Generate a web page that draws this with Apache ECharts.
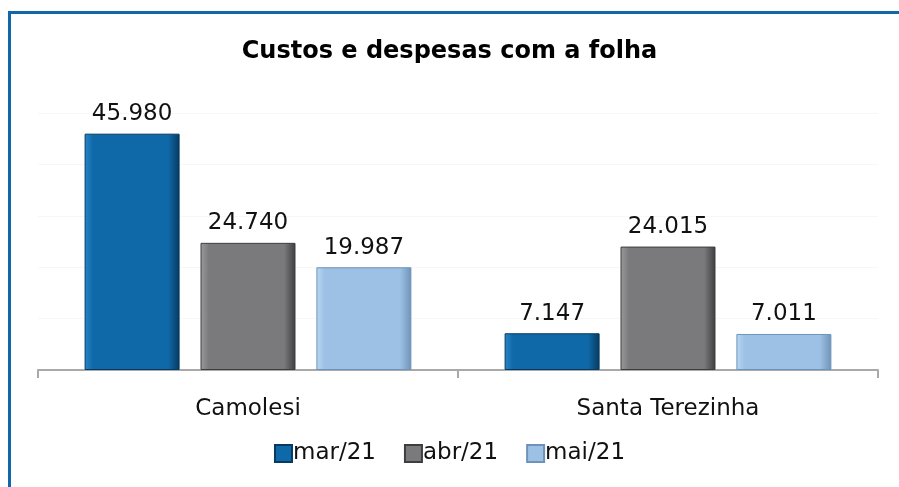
<!DOCTYPE html>
<html>
<head>
<meta charset="utf-8">
<script src="https://cdn.jsdelivr.net/npm/echarts@6/dist/echarts.min.js"></script>
<style>
	html,body{margin:0;padding:0;background:#fff;}
	#chart{width:899px;height:487px;}
</style>
</head>
<body>
<div id="chart"></div>
<script>
	// dados
	const categorias = ['Camolesi', 'Santa Terezinha'];
	const meses = ['mar/21', 'abr/21', 'mai/21'];
	const mar21 = [45980, 7147];
	const abr21 = [24740, 24015];
	const mai21 = [19987, 7011];

	const cores = [
		['#2a86c8', '#0f68a8', '#063a60'],
		['#9a9a9c', '#7a7a7c', '#3e3e40'],
		['#b8d8f4', '#9dc1e4', '#6f93b8']
	];

	const fmt = v => v.toLocaleString('de-DE');
	const fonte = 'DejaVu Sans';

	const grad = (c) => new echarts.graphic.LinearGradient(0, 0, 1, 0, [
		{offset: 0, color: c[0]},
		{offset: 0.09, color: c[1]},
		{offset: 0.88, color: c[1]},
		{offset: 1, color: c[2]}
	]);

	const serie = (nome, dados, c) => ({
		name: nome,
		type: 'bar',
		data: dados,
		barWidth: 95,
		barGap: '22%',
		barCategoryGap: '22%',
		itemStyle: {color: grad(c), borderColor: c[2], borderWidth: 1},
		label: {
			show: true, position: 'top', distance: 8,
			fontFamily: fonte, fontSize: 23, color: '#111',
			formatter: p => fmt(p.value)
		}
	});

	const chart = echarts.init(document.getElementById('chart'));
	chart.setOption({
		backgroundColor: '#fff',
		animation: false,
		title: {
			text: 'Custos e despesas com a folha',
			left: 'center', top: 35,
			textStyle: {fontFamily: fonte, fontWeight: 'bold', fontSize: 24, color: '#000'}
		},
		graphic: [{
			type: 'rect', silent: true,
			shape: {x: 9.5, y: 12.5, width: 900, height: 490},
			style: {fill: 'none', stroke: '#1067a9', lineWidth: 3}
		}],
		legend: {
			data: meses,
			bottom: 17, left: 'center',
			icon: 'rect', itemWidth: 17, itemHeight: 17, itemGap: 28,
			textStyle: {fontFamily: fonte, fontSize: 23, color: '#111', padding: [0, 0, 0, -4]}
		},
		grid: {left: 38, right: 21, top: 113, bottom: 117},
		xAxis: {
			type: 'category', data: categorias,
			axisLine: {lineStyle: {color: '#a9a9a9', width: 2}},
			axisTick: {show: true, length: 8, lineStyle: {color: '#a9a9a9', width: 2}},
			axisLabel: {fontFamily: fonte, fontSize: 23, color: '#111', margin: 28}
		},
		yAxis: {
			type: 'value', min: 0, max: 50000, interval: 10000,
			axisLine: {show: false}, axisTick: {show: false}, axisLabel: {show: false},
			splitLine: {lineStyle: {color: '#f7f7f7'}}
		},
		series: [
			serie(meses[0], mar21, cores[0]),
			serie(meses[1], abr21, cores[1]),
			serie(meses[2], mai21, cores[2])
		]
	});
</script>
</body>
</html>
